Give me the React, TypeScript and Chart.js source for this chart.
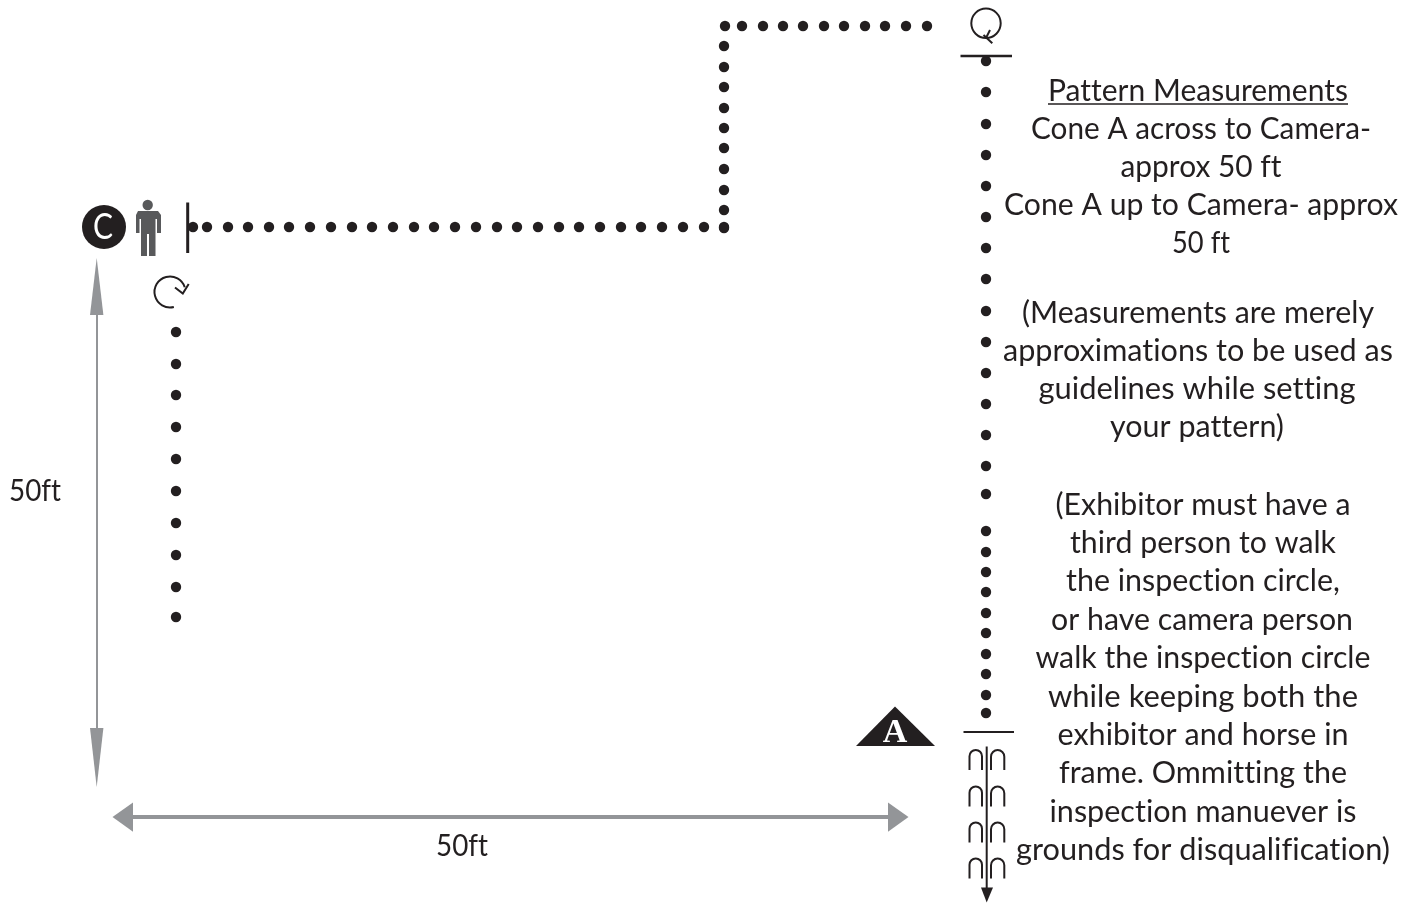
import React, { useEffect, useRef } from "react";
import { Chart, registerables } from "chart.js";

Chart.register(...registerables);

const INK = "#231f20";
const GREY = "#939598";
const PERSON = "#58595b";
const FONT = '"Lato", "Open Sans", sans-serif';

const topRowX = [725, 742, 763, 783, 803, 824, 844, 865, 885, 906, 927];
const topRowY = [26, 26, 26, 26, 26, 26, 26, 26, 26, 26, 26];
const riserX = [724, 724, 724, 724, 724, 724, 724, 724, 724, 724];
const riserY = [46, 67, 87, 108, 128, 148, 169, 190, 210, 228];
const runX = [193, 207, 228, 248, 269, 289, 310, 331, 352, 372, 393, 414, 434, 455, 476, 497, 517, 538, 559, 579, 600, 621, 641, 662, 683, 704, 724];
const runY = runX.map(() => 227);
const rightColX = [986, 986, 986, 986, 986, 986, 986, 986, 986, 986, 986, 986, 986, 986, 986, 986, 986, 986, 986, 986, 986, 986, 986, 986, 986];
const rightColY = [61, 92, 124, 155, 186, 217, 248, 279, 311, 342, 373, 404, 435, 466, 494, 531, 552, 572, 592, 613, 633, 654, 674, 695, 713];
const leftColX = [176, 176, 176, 176, 176, 176, 176, 176, 176, 176];
const leftColY = [332, 364, 395, 427, 459, 491, 523, 555, 587, 617];

const verticalMeasureX = [97, 97];
const verticalMeasureY = [300, 745];
const horizontalMeasureX = [125, 895];
const horizontalMeasureY = [817, 817];

const noteLines = [
  "Pattern Measurements",
  "Cone A across to Camera-",
  "approx 50 ft",
  "Cone A up to Camera- approx",
  "50 ft",
  "(Measurements are merely",
  "approximations to be used as",
  "guidelines while setting",
  "your pattern)",
  "(Exhibitor must have a",
  "third person to walk",
  "the inspection circle,",
  "or have camera person",
  "walk the inspection circle",
  "while keeping both the",
  "exhibitor and horse in",
  "frame. Ommitting the",
  "inspection manuever is",
  "grounds for disqualification)",
];
const noteCentreX = [1198, 1201, 1201, 1201, 1201, 1198, 1198, 1197, 1197, 1203, 1203, 1203, 1202, 1203, 1203, 1203, 1203, 1203, 1203];
const noteCentreY = [91, 129, 167, 205, 243, 313, 351, 389, 427, 505, 543, 581, 620, 658, 697, 735, 773, 812, 850];
const noteWidths = [300, 340, 161, 394, 58, 352, 390, 317, 174, 295, 266, 274, 302, 335, 310, 291, 288, 307, 374];
const measureLabels = ["50ft", "50ft"];
const measureLabelX = [35, 462];
const measureLabelY = [491, 846];
const measureLabelWidth = 52;

const pts = (xs: number[], ys: number[]) => xs.map((x, i) => ({ x, y: ys[i] }));

const dots = (xs: number[], ys: number[]) => ({
  data: pts(xs, ys),
  showLine: false,
  pointRadius: 5.2,
  pointBorderWidth: 0,
  pointBackgroundColor: INK,
});

const measure = (xs: number[], ys: number[], width: number) => ({
  data: pts(xs, ys),
  showLine: true,
  borderColor: GREY,
  borderWidth: width,
  pointRadius: 0,
});

const diagramPlugin = {
  id: "diagram",
  afterDatasetsDraw(chart: any) {
    const { ctx, scales } = chart;
    const X = (v: number) => scales.x.getPixelForValue(v);
    const Y = (v: number) => scales.y.getPixelForValue(v);

    const poly = (p: number[][], fill: string) => {
      ctx.beginPath();
      p.forEach(([x, y], i) => (i ? ctx.lineTo(X(x), Y(y)) : ctx.moveTo(X(x), Y(y))));
      ctx.closePath();
      ctx.fillStyle = fill;
      ctx.fill();
    };
    const stroke = (p: number[][], w: number, color = INK) => {
      ctx.beginPath();
      p.forEach(([x, y], i) => (i ? ctx.lineTo(X(x), Y(y)) : ctx.moveTo(X(x), Y(y))));
      ctx.lineWidth = w;
      ctx.strokeStyle = color;
      ctx.stroke();
    };
    const disc = (x: number, y: number, r: number, fill: string) => {
      ctx.beginPath();
      ctx.arc(X(x), Y(y), r, 0, Math.PI * 2);
      ctx.fillStyle = fill;
      ctx.fill();
    };
    const text = (s: string, x: number, y: number, width: number, font: string, color = INK) => {
      ctx.save();
      ctx.font = font;
      ctx.letterSpacing = "0.01px";
      ctx.textAlign = "center";
      ctx.textBaseline = "middle";
      ctx.fillStyle = color;
      const natural = ctx.measureText(s).width;
      ctx.translate(X(x), Y(y));
      ctx.scale(width / natural, 1);
      ctx.fillText(s, 0, 0);
      ctx.restore();
    };

    ctx.save();
    ctx.lineCap = "butt";

    // measurement arrow heads
    poly([[96.7, 258], [90, 315], [103.4, 315]], GREY);
    poly([[96.7, 787], [90, 728], [103.4, 728]], GREY);
    poly([[112.5, 817], [133, 802.5], [133, 831.8]], GREY);
    poly([[908.5, 817], [888, 802.5], [888, 831.8]], GREY);

    // camera marker
    disc(104, 227, 22, INK);
    text("C", 103, 227, 20, `36px ${FONT}`, "#ffffff");

    // person
    disc(147.7, 205, 5.2, PERSON);
    poly([[138, 211], [158, 211], [161, 215], [161, 233], [157, 233], [157, 219], [155.5, 219], [155.5, 256], [149, 256], [149, 234], [147, 234], [147, 256], [141, 256], [141, 219], [139.5, 219], [139.5, 233], [136, 233], [136, 215]], PERSON);

    // start tick and top gate
    stroke([[187.7, 202.5], [187.7, 253]], 3);
    stroke([[960.5, 56], [1012, 56]], 2.5);
    stroke([[963.5, 732], [1014, 732]], 2);

    // clockwise turn
    ctx.beginPath();
    ctx.arc(X(170), Y(292), 15.5, Math.PI * 0.42, Math.PI * 1.9);
    ctx.lineWidth = 2;
    ctx.strokeStyle = INK;
    ctx.stroke();
    stroke([[175, 287.5], [182.8, 293.5], [188.7, 284]], 2);

    // circle turn
    ctx.beginPath();
    ctx.arc(X(986), Y(23.3), 14.7, 0, Math.PI * 2);
    ctx.lineWidth = 2;
    ctx.strokeStyle = INK;
    ctx.stroke();
    stroke([[983.5, 35], [992.3, 43.3]], 2);
    stroke([[990, 30], [986, 38]], 2);

    // cone A
    poly([[895, 706.5], [856, 746], [935, 746]], INK);
    ctx.save();
    ctx.font = "bold 34px 'Liberation Serif', serif";
    ctx.textAlign = "center";
    ctx.textBaseline = "alphabetic";
    ctx.fillStyle = "#ffffff";
    ctx.fillText("A", X(895), Y(742));
    ctx.restore();

    // footprints and exit arrow
    stroke([[986.7, 746.5], [986.7, 890]], 2);
    poly([[986.7, 902.5], [981, 887.5], [993, 887.5]], INK);
    [750, 786.5, 822.5, 858.5].forEach((top) => {
      [[969.5, 982], [991, 1004.3]].forEach(([l, r]) => {
        const rad = (r - l) / 2;
        ctx.beginPath();
        ctx.moveTo(X(l), Y(top + 20));
        ctx.lineTo(X(l), Y(top + rad));
        ctx.arc(X(l + rad), Y(top + rad), rad, Math.PI, 0);
        ctx.lineTo(X(r), Y(top + 20));
        ctx.lineWidth = 2;
        ctx.strokeStyle = INK;
        ctx.stroke();
      });
    });

    // notes
    const body = `30px ${FONT}`;
    noteLines.forEach((s, i) => text(s, noteCentreX[i], noteCentreY[i], noteWidths[i], body));
    stroke([[1048, 104], [1348, 104]], 1.5);
    measureLabels.forEach((s, i) => text(s, measureLabelX[i], measureLabelY[i], measureLabelWidth, body));

    ctx.restore();
  },
};

export default function App() {
  const ref = useRef<HTMLCanvasElement | null>(null);

  useEffect(() => {
    if (!ref.current) return;
    const chart = new Chart(ref.current, {
      type: "scatter",
      data: {
        datasets: [
          measure(verticalMeasureX, verticalMeasureY, 2),
          measure(horizontalMeasureX, horizontalMeasureY, 4),
          dots(topRowX, topRowY),
          dots(riserX, riserY),
          dots(runX, runY),
          dots(rightColX, rightColY),
          dots(leftColX, leftColY),
        ] as any,
      },
      options: {
        animation: false,
        responsive: false,
        devicePixelRatio: 1,
        layout: { padding: 0, autoPadding: false },
        plugins: { legend: { display: false }, tooltip: { enabled: false } },
        scales: {
          x: { type: "linear", min: 0, max: 1405, display: false },
          y: { type: "linear", min: 0, max: 903, reverse: true, display: false },
        },
      },
      plugins: [diagramPlugin],
    } as any);
    return () => chart.destroy();
  }, []);

  return (
    <canvas
      ref={ref}
      width={1405}
      height={903}
      style={{ position: "absolute", left: 0, top: 0, width: 1405, height: 903, display: "block", background: "#ffffff" }}
    />
  );
}
